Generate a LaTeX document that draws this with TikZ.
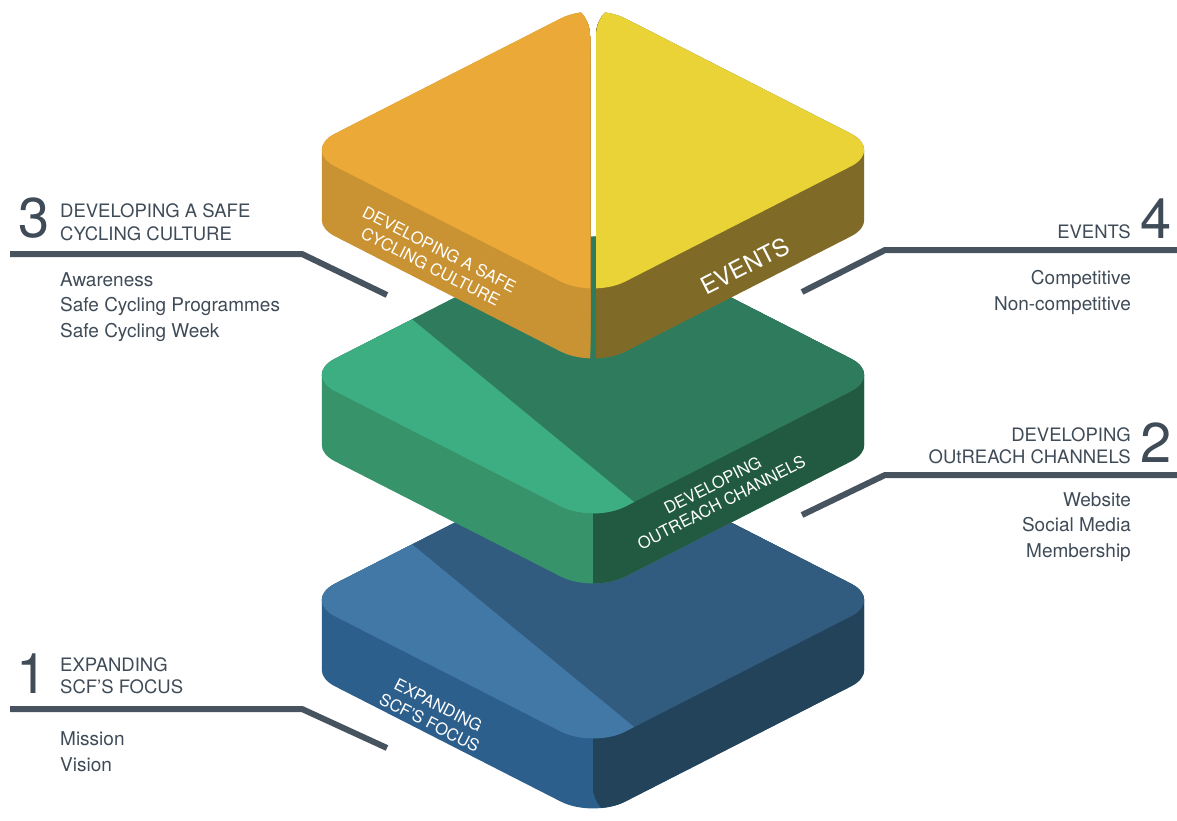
\documentclass[tikz,border=0pt]{standalone}
\usepackage{fontspec}
\setmainfont{TeX Gyre Heros}
\usepackage{tikz}

% slab colours
\definecolor{orangetop}{HTML}{EBA937}
\definecolor{orangeside}{HTML}{C99232}
\definecolor{yellowtop}{HTML}{EAD337}
\definecolor{yellowside}{HTML}{7F6B27}
\definecolor{greenlight}{HTML}{3DAD82}
\definecolor{greendark}{HTML}{2E7C5D}
\definecolor{greenleft}{HTML}{37936A}
\definecolor{greenright}{HTML}{215A40}
\definecolor{bluelight}{HTML}{4178A6}
\definecolor{bluedark}{HTML}{315C80}
\definecolor{blueleft}{HTML}{2C5F8C}
\definecolor{blueright}{HTML}{22435A}
\definecolor{slate}{HTML}{3F4B57}
\definecolor{slateline}{HTML}{47545F}

% top face of a slab, centred on x=593 at height #1
\newcommand{\rhomb}[1]{(593,#1-148) -- (883,#1) -- (593,#1+148) -- (303,#1) -- cycle}

\tikzset{
  slabedge/.style={rounded corners=36pt},
  conn/.style={draw=slateline, line width=6pt},
  numlabel/.style={text=slate, font=\fontsize{56}{56}\selectfont, inner sep=0pt},
  headlabel/.style={text=slate, font=\fontsize{18.5}{22}\selectfont, inner sep=0pt},
  itemlabel/.style={text=slate, font=\fontsize{19}{25.2}\selectfont, inner sep=0pt},
  facetext/.style={text=white, font=\fontsize{16.5}{19.5}\selectfont, align=center, inner sep=0pt},
}

\begin{document}
\begin{tikzpicture}[x=1pt, y=-1pt]
	\useasboundingbox (0,0) rectangle (1177,821);

	% bottom slab
	\begin{scope}[slabedge]
	    \foreach \k in {0,2,...,70} \fill[blueleft] \rhomb{600+\k};
	    \begin{scope}
	        \clip (593,0) rectangle (1177,821);
	        \foreach \k in {0,2,...,70} \fill[blueright] \rhomb{600+\k};
	    \end{scope}
	    \fill[bluedark] \rhomb{600};
	    \begin{scope}
	        \clip \rhomb{600};
	        \fill[bluelight] (278,434) -- (746,819) -- (0,1000) -- (0,434) -- cycle;
	    \end{scope}
	\end{scope}

	% middle slab
	\begin{scope}[slabedge]
	    \foreach \k in {0,2,...,70} \fill[greenleft] \rhomb{375+\k};
	    \begin{scope}
	        \clip (593,0) rectangle (1177,821);
	        \foreach \k in {0,2,...,70} \fill[greenright] \rhomb{375+\k};
	    \end{scope}
	    \fill[greendark] \rhomb{375};
	    \begin{scope}
	        \clip \rhomb{375};
	        \fill[greenlight] (278,209) -- (746,594) -- (0,800) -- (0,209) -- cycle;
	    \end{scope}
	\end{scope}

	% top slab, split in two halves
	\begin{scope}[slabedge]
	    \begin{scope}
	        \clip (0,0) rectangle (590,821);
	        \foreach \k in {0,2,...,70} \fill[orangeside] \rhomb{150+\k};
	        \fill[orangetop] \rhomb{150};
	    \end{scope}
	    \begin{scope}
	        \clip (596,0) rectangle (1177,821);
	        \foreach \k in {0,2,...,70} \fill[yellowside] \rhomb{150+\k};
	        \fill[yellowtop] \rhomb{150};
	    \end{scope}
	\end{scope}

	% texts on the side faces
	\node[facetext, rotate=-27] (culture) at (435,258) {DEVELOPING A SAFE\\CYCLING CULTURE};
	\node[facetext, rotate=27, font=\fontsize{24}{24}\selectfont] (events) at (745,266) {EVENTS};
	\node[facetext, rotate=27] (outreach) at (717,494) {DEVELOPING\\OUTREACH CHANNELS};
	\node[facetext, rotate=-27] (expanding) at (434,714) {EXPANDING\\SCF'S FOCUS};

	% side labels (base anchor sits on the last line)
	\node[numlabel, anchor=base west] (n3) at (18,237) {3};
	\node[headlabel, anchor=base west, align=left] (h3) at (60,240) {DEVELOPING A SAFE\\CYCLING CULTURE};
	\node[itemlabel, anchor=base west, align=left] (i3) at (60,337) {Awareness\\Safe Cycling Programmes\\Safe Cycling Week};

	\node[numlabel, anchor=base west] (n1) at (16,693) {1};
	\node[headlabel, anchor=base west, align=left] (h1) at (60,693) {EXPANDING\\SCF'S FOCUS};
	\node[itemlabel, anchor=base west, align=left] (i1) at (60,771) {Mission\\Vision};

	\node[numlabel, anchor=base east] (n4) at (1172,238) {4};
	\node[headlabel, anchor=base east, align=right] (h4) at (1131,238) {EVENTS};
	\node[itemlabel, anchor=base east, align=right] (i4) at (1131,310) {Competitive\\Non-competitive};

	\node[numlabel, anchor=base east] (n2) at (1172,462) {2};
	\node[headlabel, anchor=base east, align=right] (h2) at (1131,463) {DEVELOPING\\OUtREACH CHANNELS};
	\node[itemlabel, anchor=base east, align=right] (i2) at (1131,557) {Website\\Social Media\\Membership};

	% leader lines
	\coordinate (l3a) at (10,254);   \coordinate (l3b) at (302,254);  \coordinate (l3c) at (387,295);
	\coordinate (l1a) at (10,709);   \coordinate (l1b) at (302,709);  \coordinate (l1c) at (387,748);
	\coordinate (l4a) at (1177,250); \coordinate (l4b) at (885,250);  \coordinate (l4c) at (802,292);
	\coordinate (l2a) at (1177,475); \coordinate (l2b) at (885,475);  \coordinate (l2c) at (802,515);
	\draw[conn] (l3a) -- (l3b) -- (l3c);
	\draw[conn] (l1a) -- (l1b) -- (l1c);
	\draw[conn] (l4a) -- (l4b) -- (l4c);
	\draw[conn] (l2a) -- (l2b) -- (l2c);
\end{tikzpicture}
\end{document}
